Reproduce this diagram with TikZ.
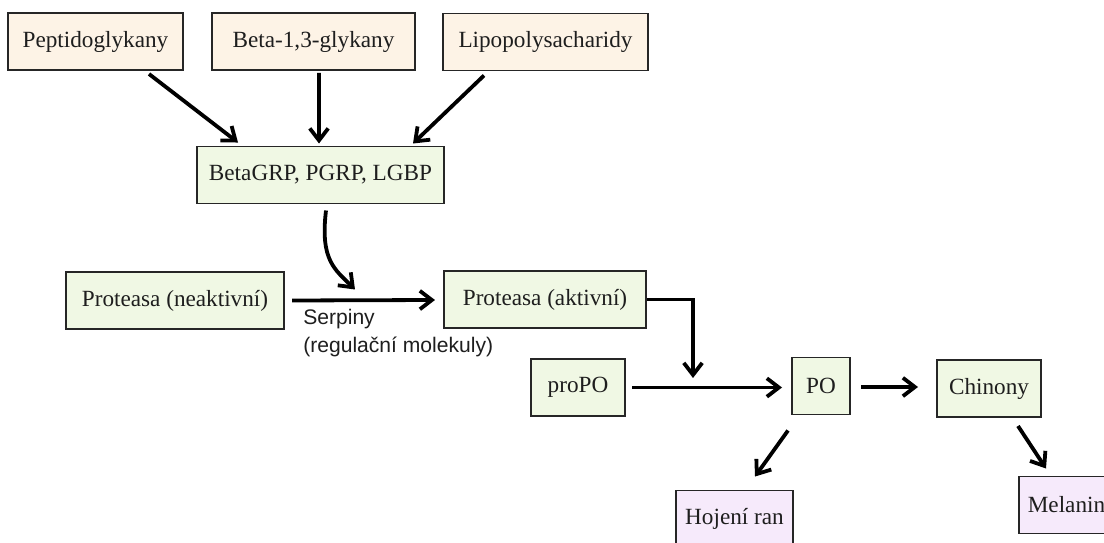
\documentclass[tikz,border=0pt]{standalone}
\usepackage{fontspec}
\setmainfont{Liberation Serif}
\setsansfont{Liberation Sans}
\usetikzlibrary{arrows.meta,calc}
\definecolor{srcfill}{HTML}{FDF3E6}
\definecolor{protfill}{HTML}{F0F8E4}
\definecolor{outfill}{HTML}{F6EAFB}
\definecolor{boxline}{HTML}{262626}
\definecolor{inktext}{HTML}{1E1E1E}

\begin{document}
\begin{tikzpicture}[x=0.025cm,y=-0.025cm,
  box/.style={draw=boxline, line width=1.4pt, inner sep=0pt, minimum height=1.425cm,
    text=inktext, font=\fontsize{16.5}{19}\selectfont},
  src/.style={box, fill=srcfill},
  prot/.style={box, fill=protfill},
  outc/.style={box, fill=outfill},
  arr/.style={-{Straight Barb[length=3mm,width=4.6mm]}, line width=2.7pt, black}]
\useasboundingbox (0,0) rectangle (1104,543);
\clip (0,0) rectangle (1104,543);
\node [src, minimum width=4.375cm] (pep) at (95.5,41.5) {Peptidoglykany};
\node [src, minimum width=5.075cm] (beta) at (313.5,41.5) {Beta-1,3-glykany};
\node [src, minimum width=5.125cm] (lipo) at (545.5,42) {Lipopolysacharidy};
\node [prot, minimum width=6.175cm] (grp) at (320.5,175) {BetaGRP, PGRP, LGBP};
\node [prot, minimum width=5.45cm] (pneak) at (175,300.5) {Proteasa (neaktivní)};
\node [prot, minimum width=5.05cm] (pakt) at (545,299.5) {Proteasa (aktivní)};
\node [prot, minimum width=2.35cm] (propo) at (578,387.5) {proPO};
\node [prot, minimum width=1.45cm] (po) at (821,386) {PO};
\node [prot, minimum width=2.6cm] (chin) at (989,388.5) {Chinony};
\node [outc, minimum width=2.925cm] (hoj) at (734.5,519) {Hojení ran};
\node [outc, minimum width=2.375cm] (mel) at (1066.5,505) {Melanin};
\node [anchor=north west, inner sep=0pt, align=left, text=inktext,
  font=\sffamily\fontsize{15}{20}\selectfont] (serp) at (303,309)
  {Serpiny\\(regulační molekuly)};
\coordinate (join) at (693,378);
\draw [arr] ($(pep.south)+(53.5,3)$) -- ($(grp.north)+(-82.5,-3)$);
\draw [arr] ($(beta.south)+(5.5,2)$) -- ($(grp.north)+(-1.5,-2)$);
\draw [arr] ($(lipo.south)+(-61.5,4)$) -- ($(grp.north)+(92.5,-2)$);
\draw [arr] ($(grp.south)+(5.5,6)$) .. controls +(-6,50) and +(-20,-20) .. ($(pakt.west)+(-88,-10)$);
\draw [arr] ($(pneak.east)+(7,0)$) -- ($(pakt.west)+(-8,0.5)$);
\draw [arr] (pakt.east) -| (join);
\draw [arr] ($(propo.east)+(6,0)$) -- ($(po.west)+(-9,1.5)$);
\draw [arr] ($(po.east)+(10,1)$) -- ($(chin.west)+(-18,-1.5)$);
\draw [arr] ($(po.south)+(-33,15)$) -- ($(hoj.north)+(20.5,-13)$);
\draw [arr] ($(chin.south)+(29,8)$) -- ($(mel.north)+(-20.5,-7)$);
\end{tikzpicture}
\end{document}
